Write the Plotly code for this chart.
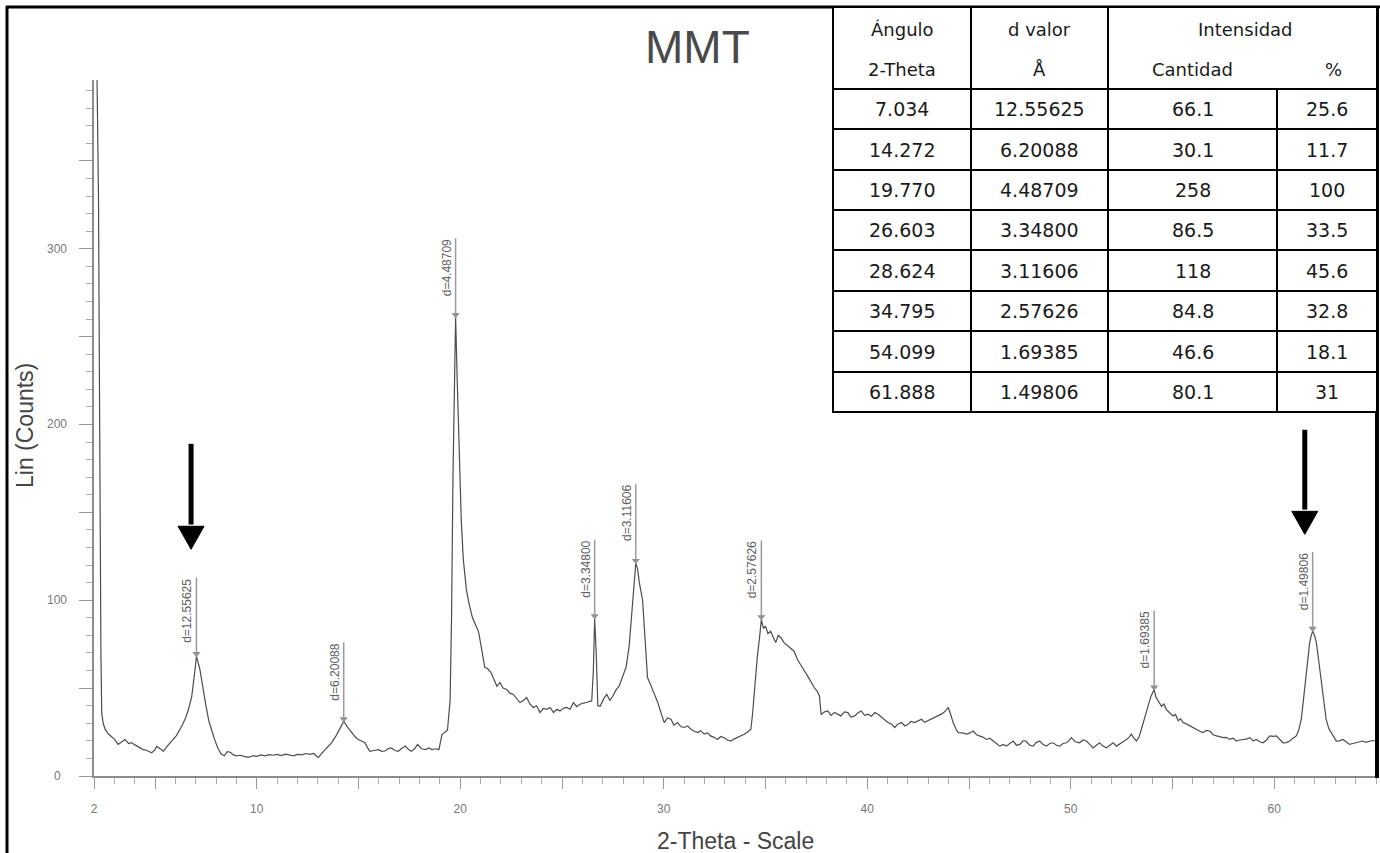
import plotly.graph_objects as go

# ---------------- data ----------------
two_theta = [
    2.15, 2.22, 2.27, 2.3, 2.34, 2.38, 2.45, 2.55, 2.7, 2.85,
    3.0, 3.19, 3.35, 3.52, 3.7, 3.85, 4.01, 4.2, 4.42, 4.6,
    4.84, 5.0, 5.08, 5.25, 5.41, 5.6, 5.82, 6.05, 6.31, 6.5,
    6.64, 6.8, 6.95, 7.034, 7.2, 7.35, 7.5, 7.65, 7.8, 7.95,
    8.1, 8.25, 8.4, 8.55, 8.7, 8.85, 9.0, 9.2, 9.4, 9.6,
    9.8, 10.0, 10.2, 10.4, 10.6, 10.8, 11.0, 11.2, 11.4, 11.6,
    11.8, 12.0, 12.2, 12.4, 12.6, 12.8, 13.02, 13.2, 13.45, 13.68,
    13.9, 14.1, 14.272, 14.45, 14.66, 14.85, 14.99, 15.15, 15.31, 15.45,
    15.56, 15.75, 15.97, 16.15, 16.3, 16.45, 16.6, 16.8, 16.95, 17.1,
    17.3, 17.45, 17.6, 17.75, 17.9, 18.1, 18.3, 18.45, 18.6, 18.8,
    18.95, 19.1, 19.25, 19.37, 19.5, 19.57, 19.64, 19.71, 19.77, 19.85,
    19.95, 20.05, 20.15, 20.3, 20.45, 20.6, 20.75, 20.9, 21.05, 21.2,
    21.35, 21.5, 21.65, 21.8, 21.95, 22.1, 22.28, 22.45, 22.61, 22.78,
    22.93, 23.1, 23.26, 23.42, 23.59, 23.75, 23.92, 24.08, 24.25, 24.42,
    24.58, 24.75, 24.9, 25.07, 25.23, 25.4, 25.56, 25.72, 25.89, 26.05,
    26.21, 26.35, 26.46, 26.54, 26.603, 26.68, 26.76, 26.87, 27.05, 27.2,
    27.35, 27.5, 27.65, 27.8, 27.9, 28.0, 28.15, 28.3, 28.45, 28.55,
    28.624, 28.71, 28.8, 28.96, 29.08, 29.2, 29.35, 29.53, 29.7, 29.86,
    30.02, 30.18, 30.35, 30.5, 30.68, 30.85, 31.0, 31.17, 31.33, 31.5,
    31.66, 31.82, 31.98, 32.15, 32.3, 32.47, 32.64, 32.8, 32.97, 33.13,
    33.3, 33.45, 33.6, 33.78, 33.95, 34.12, 34.28, 34.36, 34.44, 34.52,
    34.6, 34.7, 34.795, 34.9, 35.0, 35.12, 35.25, 35.38, 35.5, 35.62,
    35.75, 35.9, 36.1, 36.25, 36.4, 36.58, 36.75, 36.9, 37.07, 37.25,
    37.4, 37.55, 37.65, 37.73, 37.9, 38.06, 38.22, 38.39, 38.55, 38.7,
    38.88, 39.05, 39.2, 39.38, 39.55, 39.7, 39.87, 40.04, 40.2, 40.37,
    40.55, 40.7, 40.85, 41.02, 41.2, 41.35, 41.5, 41.68, 41.85, 42.0,
    42.15, 42.33, 42.5, 42.66, 42.82, 42.99, 43.15, 43.3, 43.45, 43.64,
    43.8, 43.98, 44.1, 44.22, 44.35, 44.47, 44.68, 44.88, 45.05, 45.2,
    45.37, 45.53, 45.7, 45.86, 46.02, 46.19, 46.35, 46.51, 46.68, 46.84,
    47.0, 47.17, 47.33, 47.5, 47.65, 47.8, 47.98, 48.15, 48.3, 48.47,
    48.63, 48.8, 48.97, 49.13, 49.3, 49.46, 49.62, 49.79, 49.9, 50.03,
    50.22, 50.44, 50.6, 50.77, 50.93, 51.1, 51.26, 51.42, 51.58, 51.75,
    51.92, 52.08, 52.25, 52.4, 52.57, 52.74, 52.86, 52.98, 53.1, 53.23,
    53.35, 53.47, 53.64, 53.8, 53.93, 54.099, 54.18, 54.3, 54.46, 54.58,
    54.7, 54.86, 55.03, 55.15, 55.28, 55.4, 55.52, 55.7, 55.85, 56.0,
    56.18, 56.34, 56.5, 56.67, 56.84, 57.0, 57.16, 57.33, 57.5, 57.65,
    57.8, 57.97, 58.14, 58.3, 58.47, 58.63, 58.8, 58.96, 59.12, 59.28,
    59.45, 59.62, 59.78, 59.94, 60.1, 60.27, 60.43, 60.6, 60.76, 60.92,
    61.08, 61.2, 61.33, 61.45, 61.58, 61.66, 61.74, 61.82, 61.888, 61.98,
    62.07, 62.18, 62.3, 62.42, 62.55, 62.68, 62.8, 62.92, 63.05, 63.2,
    63.37, 63.53, 63.7, 63.86, 64.03, 64.2, 64.35, 64.5, 64.68, 64.82, 65.0,
]
counts = [
    396, 330, 220, 140, 70, 36, 30, 26.5, 24, 22.5,
    21, 18, 19.5, 20.8, 18.5, 19, 17.7, 16.5, 15, 14.5,
    13.2, 15, 16.8, 15.5, 14.1, 17, 19.8, 23, 28.3, 33,
    37.8, 45, 59, 68, 61, 50, 40, 31, 25, 20,
    15.5, 12.5, 11.5, 13.8, 13.5, 12, 11.5, 11.8, 11, 10.6,
    11.5, 11.2, 12, 11.5, 12.2, 11.8, 12.3, 11.6, 12.4, 12,
    11.5, 12.3, 12, 12.8, 12.3, 12.8, 10.4, 13, 16, 19,
    23, 27.6, 31, 28, 24.7, 22, 20.8, 20, 19, 16,
    14.1, 14.5, 15, 14, 14.2, 15.5, 16, 14.5, 14, 15.5,
    17, 15, 14, 15.5, 17.9, 15.5, 15, 16, 15, 15.5,
    15, 23.6, 25, 26, 43, 90, 170, 230, 261, 225,
    180, 145, 123, 106, 97, 90, 86, 82, 72, 62,
    61, 59, 55, 51, 53.2, 50, 49.2, 47, 46.4, 44,
    41.8, 43, 44.7, 41, 39, 40, 36.1, 38.5, 37.9, 39,
    36.1, 38, 37, 38.5, 39, 38, 41.8, 39.5, 40.8, 41.5,
    41.8, 42.5, 42.7, 60, 89.5, 70, 40, 39.7, 44, 46.4,
    43, 45.5, 49, 51, 54, 56.8, 62, 74, 95, 110,
    121, 118, 110, 100, 80, 56, 52, 47.3, 42, 36.1,
    30.4, 33, 32.3, 29, 30.4, 28, 27.6, 28.5, 26.6, 25.5,
    24.7, 25.8, 23.8, 24.5, 22.8, 22, 20.8, 22.5, 21.8, 20.5,
    19.9, 21, 21.8, 22.5, 23.8, 25, 26.6, 35, 47.3, 58,
    68.2, 78, 89, 84, 85.3, 81, 82.4, 79, 75.9, 80,
    78.8, 76, 74, 72, 71, 66, 62.5, 60, 56.8, 53,
    50.2, 48, 45.5, 35, 36.5, 37, 34.5, 36.1, 35, 34.2,
    36.5, 36.1, 33.5, 34.2, 36, 37, 34.5, 35.2, 34, 36.1,
    35, 33.3, 32, 30.4, 29.5, 27.6, 29.5, 30.4, 28.5, 29.4,
    31, 30.4, 31.5, 32.3, 30.5, 31.4, 32.5, 33.3, 34, 35.2,
    36.5, 39, 35, 30.4, 27, 24.7, 24.5, 23.8, 24.5, 25.6,
    23.5, 22.8, 22, 20.8, 21.5, 19.9, 18.5, 17, 18, 17,
    18.5, 19.9, 17.5, 18, 20, 19.9, 17.5, 17, 19, 19.9,
    18, 17, 18.5, 18.9, 17.5, 17, 18.5, 18.9, 20, 21.8,
    19.5, 18.9, 20.5, 19.9, 18, 16, 17.5, 18.9, 17, 16,
    17.5, 18.9, 17, 18, 19.5, 20.8, 22, 23.8, 21.5, 19.9,
    22, 26.6, 33, 39.7, 45, 49.2, 45, 42.7, 39.7, 41,
    37.8, 36, 34.2, 35, 31.4, 32.5, 30.4, 29.5, 28.5, 27.5,
    26.6, 25.5, 24.7, 26, 25.6, 23.5, 22.8, 22.5, 21.8, 22,
    20.8, 21.5, 19.9, 20.5, 20.8, 21, 21.8, 20, 20.8, 19.5,
    18.9, 20.5, 22.8, 22.5, 22.8, 20.5, 18.9, 19, 19.9, 21.5,
    22.8, 26, 32.3, 45, 58.8, 68, 75.9, 80, 82.4, 80,
    75.9, 66, 55, 42, 32.3, 27, 24.7, 22, 19.9, 20,
    20.8, 19.5, 18, 18.5, 18.9, 19.5, 19.9, 19.2, 19.9, 20.2, 19.9,
]
assert len(two_theta) == len(counts)

# table values
tbl_angle = ["7.034", "14.272", "19.770", "26.603", "28.624", "34.795", "54.099", "61.888"]
tbl_d = ["12.55625", "6.20088", "4.48709", "3.34800", "3.11606", "2.57626", "1.69385", "1.49806"]
tbl_cantidad = ["66.1", "30.1", "258", "86.5", "118", "84.8", "46.6", "80.1"]
tbl_pct = ["25.6", "11.7", "100", "33.5", "45.6", "32.8", "18.1", "31"]
# curve height at each marked peak
peak_top = [68, 31, 261, 89.5, 121, 89, 49, 82.4]

# black pointer arrows (2-theta, tail count, tip count)
arrow_x = [6.77, 61.5]
arrow_tail = [189, 197]
arrow_tip = [129, 137.5]

x_tick_vals = [2, 5, 10, 15, 20, 25, 30, 35, 40, 45, 50, 55, 60]
y_tick_vals = [0, 50, 100, 150, 200, 250, 300, 350]
y_label_vals = [0, 100, 200, 300]

# ---------------- layout geometry ----------------
W, H = 1380, 853
ML, MR, MT, MB = 94, 4, 80, 77
PW, PH = W - ML - MR, H - MT - MB
Y_MAX = 396
unit_px_y = PH / Y_MAX
unit_px_x = PW / (65 - 2)


def px(x):
    return (x - ML) / PW


def py(y):
    return (H - MB - y) / PH


fig = go.Figure()
fig.add_trace(go.Scatter(x=two_theta, y=counts, mode="lines",
                         line=dict(color="#4d4d4d", width=1.2),
                         hoverinfo="skip", showlegend=False))
peak_x = [float(a) for a in tbl_angle]
fig.add_trace(go.Scatter(x=peak_x, y=[p + 1.5 for p in peak_top], mode="markers",
                         marker=dict(symbol="triangle-down", size=7, color="#8c8c8c"),
                         hoverinfo="skip", showlegend=False))

shapes = []
annotations = []
LABEL_LEN = 45
for xv, top, d in zip(peak_x, peak_top, tbl_d):
    shapes.append(dict(type="line", xref="x", yref="y", x0=xv, x1=xv, y0=top, y1=top + LABEL_LEN,
                       line=dict(color="#9a9a9a", width=1.5)))
    annotations.append(dict(xref="x", yref="y", x=xv, y=top + LABEL_LEN, text="d=" + d,
                            textangle=-90, xanchor="right", yanchor="top", showarrow=False,
                            xshift=-1, font=dict(family="Liberation Sans, Arial", size=12, color="#606060"),
                            borderpad=0))

# black arrows
head_len = 23 / unit_px_y
head_hw = 13 / unit_px_x
for xv, t0, t1 in zip(arrow_x, arrow_tail, arrow_tip):
    base = t1 + head_len
    shapes.append(dict(type="line", xref="x", yref="y", x0=xv, x1=xv, y0=t0, y1=base + 1,
                       line=dict(color="black", width=5)))
    shapes.append(dict(type="path", xref="x", yref="y",
                       path=f"M {xv - head_hw},{base} L {xv + head_hw},{base} L {xv},{t1} Z",
                       fillcolor="black", line=dict(color="black", width=1)))

# frame
shapes.append(dict(type="line", xref="paper", yref="paper", x0=px(7), x1=px(7), y0=py(6), y1=py(853),
                   line=dict(color="black", width=3)))
shapes.append(dict(type="line", xref="paper", yref="paper", x0=px(6), x1=px(1380), y0=py(7), y1=py(7),
                   line=dict(color="black", width=3)))
shapes.append(dict(type="line", xref="paper", yref="paper", x0=px(1377), x1=px(1377), y0=py(6), y1=py(778),
                   line=dict(color="black", width=4)))

# table
T_L, T_R, T_T, T_B = 833, 1377, 7, 412
col_x = [833, 971, 1108, 1277, 1377]
row_y = [89, 129, 170, 210, 250, 291, 331, 372, 412]
shapes.append(dict(type="rect", xref="paper", yref="paper", x0=px(T_L), x1=px(T_R), y0=py(T_B), y1=py(T_T),
                   fillcolor="white", line=dict(color="black", width=2), layer="above"))
for ry in row_y[:-1]:
    shapes.append(dict(type="line", xref="paper", yref="paper", x0=px(T_L), x1=px(T_R), y0=py(ry), y1=py(ry),
                       line=dict(color="black", width=2)))
for cx in col_x[1:3]:
    shapes.append(dict(type="line", xref="paper", yref="paper", x0=px(cx), x1=px(cx), y0=py(T_T), y1=py(T_B),
                       line=dict(color="black", width=2)))
shapes.append(dict(type="line", xref="paper", yref="paper", x0=px(col_x[3]), x1=px(col_x[3]),
                   y0=py(row_y[0]), y1=py(T_B), line=dict(color="black", width=2)))

tfont = dict(family="DejaVu Sans", size=19, color="#1a1a1a")
col_c = [(col_x[i] + col_x[i + 1]) / 2 for i in range(4)]


def cell(text, cxp, cyp, size=None):
    f = dict(tfont)
    if size:
        f["size"] = size
    annotations.append(dict(xref="paper", yref="paper", x=px(cxp), y=py(cyp), text=text,
                            showarrow=False, xanchor="center", yanchor="middle", font=f))


cell("Ángulo", col_c[0], 30, 18)
cell("2-Theta", col_c[0], 69, 18)
cell("d valor", col_c[1], 30, 18)
cell("Å", col_c[1], 69, 18)
cell("Intensidad", (col_x[2] + col_x[4]) / 2 + 3, 30, 18)
cell("Cantidad", col_c[2], 69, 18)
cell("%", col_c[3] + 6, 69, 18)
for i in range(8):
    cyp = (row_y[i] + row_y[i + 1]) / 2
    cell(tbl_angle[i], col_c[0], cyp)
    cell(tbl_d[i], col_c[1], cyp)
    cell(tbl_cantidad[i], col_c[2], cyp)
    cell(tbl_pct[i], col_c[3], cyp)

# titles
annotations.append(dict(xref="paper", yref="paper", x=px(697), y=py(47), text="MMT", showarrow=False,
                        xanchor="center", yanchor="middle",
                        font=dict(family="Liberation Sans, Arial", size=46, color="#4a4a4a")))
annotations.append(dict(xref="paper", yref="paper", x=px(25), y=py(426), text="Lin (Counts)", showarrow=False,
                        textangle=-90, xanchor="center", yanchor="middle",
                        font=dict(family="Liberation Sans, Arial", size=23, color="#444")))
annotations.append(dict(xref="paper", yref="paper", x=px(735), y=py(841), text="2-Theta - Scale", showarrow=False,
                        xanchor="center", yanchor="middle",
                        font=dict(family="Liberation Sans, Arial", size=23, color="#444")))
for v in y_label_vals:
    annotations.append(dict(xref="paper", yref="y", x=px(57), y=v, text=str(v), showarrow=False,
                            xanchor="center", yanchor="middle",
                            font=dict(family="Liberation Sans, Arial", size=12, color="#777")))

fig.update_layout(
    width=W, height=H,
    margin=dict(l=ML, r=MR, t=MT, b=MB),
    paper_bgcolor="white", plot_bgcolor="white",
    showlegend=False,
    shapes=shapes, annotations=annotations,
    xaxis=dict(range=[2, 65], showline=True, linecolor="#8c8c8c", linewidth=1.5,
               showgrid=False, zeroline=False, ticks="outside", ticklen=11, tickwidth=1.2, tickcolor="#999",
               tickvals=x_tick_vals,
               ticktext=[str(v) if (v == 2 or v % 10 == 0) else "" for v in x_tick_vals],
               tickfont=dict(family="Liberation Sans, Arial", size=12, color="#777"),
               ticklabelstandoff=10,
               minor=dict(tickmode="linear", tick0=0, dtick=1, ticks="outside", ticklen=6,
                          tickcolor="#aaa", showgrid=False)),
    yaxis=dict(range=[0, Y_MAX], showline=True, linecolor="#8c8c8c", linewidth=1.5,
               showgrid=False, zeroline=False, ticks="outside", ticklen=13, tickwidth=1.2, tickcolor="#999",
               tickvals=y_tick_vals, showticklabels=False,
               minor=dict(tickmode="linear", tick0=0, dtick=10, ticks="outside", ticklen=6,
                          tickcolor="#aaa", showgrid=False)),
)

fig.write_html("out.html")
